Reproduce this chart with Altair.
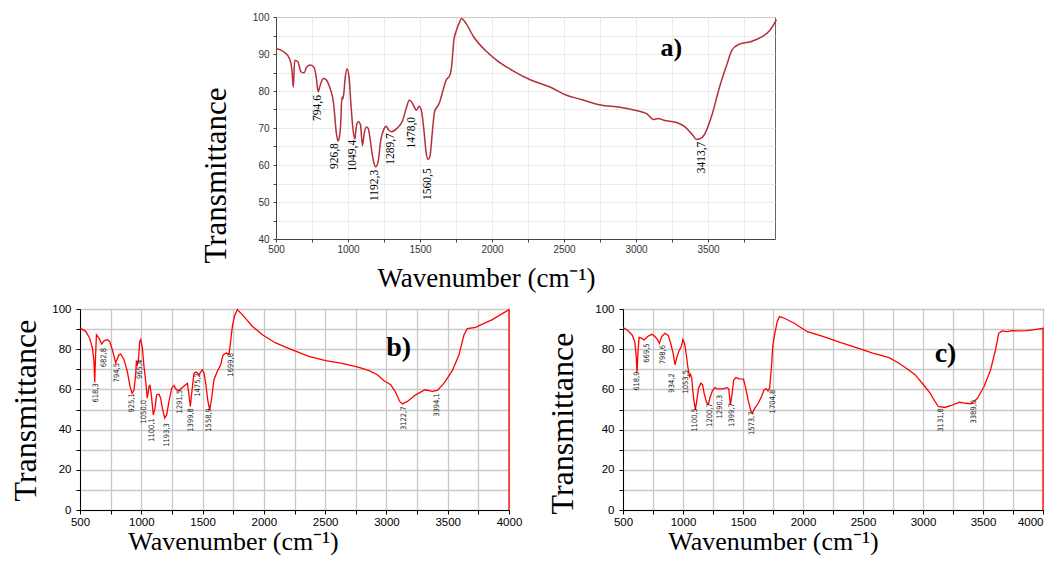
import altair as alt
import pandas as pd

# ---------------- Panel a) ----------------
a_wn = [500, 553, 593, 610, 620, 630, 652, 673, 695, 713, 740, 765, 780, 793, 805, 828, 840, 873, 900,
        919, 930, 940, 948, 958, 963, 970, 980, 993, 1007, 1020, 1033, 1047, 1055, 1062, 1073, 1087,
        1100, 1113, 1127, 1140, 1153, 1167, 1180, 1192, 1207, 1228, 1247, 1265, 1281, 1300, 1340,
        1380, 1407, 1425, 1441, 1460, 1475, 1495, 1511, 1527, 1543, 1556, 1569, 1585, 1601, 1633,
        1660, 1681, 1708, 1719, 1735, 1753, 1775, 1788, 1820, 1873, 1953, 2033, 2140, 2273, 2407,
        2513, 2620, 2753, 2887, 2993, 3073, 3121, 3153, 3193, 3287, 3340, 3393, 3420, 3440, 3473,
        3527, 3580, 3633, 3665, 3713, 3793, 3873, 3930, 3975]
a_T = [91.5, 90.6, 88.8, 86.0, 81.0, 88.3, 87.9, 85.2, 84.9, 86.5, 87.0, 86.3, 83.5, 79.8, 81.3, 83.4,
       83.3, 81.0, 76.6, 68.6, 66.5, 67.5, 70.3, 78.4, 77.8, 79.0, 83.4, 86.0, 83.8, 76.6, 70.3, 67.0,
       69.5, 71.2, 71.7, 70.8, 65.3, 68.6, 70.3, 69.9, 67.2, 63.2, 60.5, 59.5, 60.5, 66.8, 69.5, 70.5,
       69.5, 69.0, 69.9, 72.1, 75.7, 77.5, 77.1, 75.7, 74.8, 75.9, 74.4, 69.5, 63.2, 61.5, 62.3, 68.6,
       74.4, 76.6, 80.2, 82.9, 84.3, 86.5, 93.7, 96.4, 98.7, 99.6, 98.2, 94.6, 91.0, 88.3, 85.6, 82.9,
       81.0, 78.9, 77.7, 76.2, 75.6, 74.8, 73.9, 72.3, 72.6, 72.1, 71.4, 70.3, 68.1, 66.9, 67.0, 68.1,
       73.5, 81.1, 87.4, 91.0, 92.6, 93.3, 94.6, 96.4, 99.3]
a_lab = ["794,6", "926,8", "1049,4", "1192,3", "1289,7", "1478,0", "1560,5", "3413,7"]
a_lab_x = [793, 913, 1033, 1185, 1300, 1447, 1553, 3460]
a_lab_y = [78.9, 65.9, 66.8, 58.7, 68.6, 73.0, 59.1, 66.3]

# ---------------- Panel b) ----------------
b_wn = [500, 546, 579, 601, 614, 620, 626, 634, 655, 677, 696, 723, 742, 764, 791, 818, 832, 859, 886,
        908, 925, 941, 954, 960, 968, 976, 987, 995, 1009, 1022, 1036, 1049, 1063, 1071, 1082, 1098,
        1112, 1125, 1145, 1158, 1172, 1191, 1207, 1226, 1248, 1267, 1281, 1302, 1335, 1376, 1389,
        1400, 1416, 1430, 1449, 1471, 1498, 1512, 1525, 1544, 1558, 1574, 1593, 1620, 1648, 1667,
        1694, 1716, 1729, 1743, 1762, 1784, 1824, 1906, 1988, 2096, 2232, 2368, 2504, 2640, 2776,
        2858, 2926, 2980, 3035, 3075, 3108, 3130, 3171, 3239, 3315, 3375, 3416, 3470, 3538, 3592,
        3633, 3660, 3728, 3783, 3864, 3932, 4000, 4000]
b_T = [90.5, 88.9, 85.5, 80.6, 73.9, 63.6, 75.0, 87.2, 85.5, 82.6, 84.2, 84.7, 83.9, 79.7, 73.2, 77.2,
       77.6, 74.8, 68.9, 61.5, 58.0, 59.8, 67.3, 74.3, 72.3, 73.9, 83.9, 84.8, 80.6, 71.4, 64.0, 55.6,
       61.5, 62.0, 57.3, 47.3, 50.7, 57.3, 57.6, 55.6, 50.7, 45.7, 47.3, 54.0, 60.6, 62.0, 60.3, 59.3,
       61.0, 63.1, 57.3, 51.5, 60.6, 68.1, 68.6, 67.3, 69.8, 68.1, 63.1, 54.0, 49.8, 55.6, 64.8, 68.9,
       72.3, 77.2, 78.1, 77.6, 83.9, 91.4, 96.8, 99.7, 97.2, 91.4, 87.2, 83.1, 79.7, 76.4, 74.3, 72.9,
       70.9, 69.3, 67.3, 64.3, 62.3, 58.6, 54.0, 52.8, 54.0, 57.3, 59.8, 59.0, 59.5, 63.1, 69.3, 77.2,
       87.2, 90.2, 90.9, 92.5, 94.7, 97.2, 99.7, 0.0]
b_lab = ["618,3", "682,8", "794,5", "925,1", "965,4", "1050,0", "1100,1", "1193,3", "1291,5",
         "1399,8", "1475,2", "1558,9", "1699,8", "3122,7", "3394,1"]
b_lab_x = [628, 696, 799, 922, 987, 1022, 1085, 1207, 1313, 1403, 1465, 1552, 1729, 3143, 3415]
b_lab_y = [63.1, 80.6, 73.1, 58.1, 74.8, 54.8, 45.7, 43.2, 59.8, 50.7, 68.1, 50.7, 78.1, 51.5, 58.1]

# ---------------- Panel c) ----------------
c_wn = [500, 535, 576, 598, 609, 617, 625, 634, 658, 677, 705, 740, 767, 789, 803, 822, 849, 877, 898,
        917, 934, 950, 966, 986, 999, 1013, 1026, 1040, 1054, 1062, 1073, 1081, 1092, 1103, 1114,
        1130, 1149, 1163, 1176, 1196, 1212, 1223, 1245, 1266, 1286, 1326, 1367, 1381, 1395, 1408,
        1422, 1441, 1468, 1504, 1523, 1545, 1567, 1578, 1599, 1627, 1654, 1676, 1695, 1708, 1722,
        1736, 1749, 1768, 1785, 1804, 1845, 1927, 2036, 2172, 2309, 2445, 2581, 2718, 2800, 2881,
        2936, 3004, 3059, 3100, 3127, 3181, 3236, 3304, 3359, 3400, 3454, 3509, 3563, 3604, 3631,
        3659, 3700, 3741, 3782, 3863, 3945, 4000, 4000]
c_T = [90.7, 89.6, 87.1, 83.8, 77.2, 68.5, 78.8, 85.9, 85.4, 84.6, 86.3, 87.4, 86.3, 84.6, 82.9, 86.3,
       87.9, 86.8, 82.9, 78.0, 72.2, 76.3, 79.1, 81.3, 84.8, 82.9, 78.0, 71.4, 66.4, 67.5, 65.6, 59.8,
       54.0, 49.8, 54.0, 60.6, 63.1, 62.3, 58.1, 53.6, 52.6, 55.6, 59.3, 60.9, 60.3, 60.3, 60.9, 60.3,
       52.3, 57.3, 64.7, 65.9, 65.2, 65.1, 60.6, 54.0, 49.0, 48.2, 50.7, 53.1, 56.5, 59.8, 60.3, 59.3,
       60.6, 70.5, 82.1, 88.7, 93.7, 96.2, 95.4, 92.9, 88.7, 86.3, 83.4, 80.8, 78.0, 75.8, 73.0, 69.7,
       67.2, 62.3, 58.1, 54.0, 51.5, 51.0, 52.0, 53.6, 53.1, 52.8, 55.6, 61.4, 69.7, 79.6, 87.9, 89.1,
       88.7, 89.2, 89.1, 89.2, 89.9, 90.4, 0.0]
c_lab = ["618,9", "669,5", "798,6", "934,2", "1053,5", "1100,5", "1200,7", "1290,3", "1399,7",
         "1573,7", "1704,8", "3131,8", "3389,0"]
c_lab_x = [617, 699, 830, 912, 1021, 1100, 1223, 1305, 1408, 1577, 1749, 3149, 3427]
c_lab_y = [68.9, 82.9, 82.1, 68.0, 69.7, 50.7, 53.1, 57.3, 53.1, 49.0, 59.8, 50.7, 54.8]

tags = ["a)", "b)", "c)"]
tag_x = [3245, 3100, 3188]
tag_y = [91.5, 80.6, 77.5]

SERIF = "Liberation Serif"
SANS = "Liberation Sans"
NARROW = "Liberation Sans Narrow, Arial Narrow, DejaVu Sans Condensed, Liberation Sans"
XTITLE = "Wavenumber (cm\u207b\u00b9)"


def panel(wn, T, lab, lab_x, lab_y, tag, tx, ty, xdom, ydom, xvals, yvals, ystep_lab,
          w, h, color, lw, interp, lab_font, lab_size, lab_color, st):
    df = pd.DataFrame({"wn": wn, "T": T, "i": list(range(len(wn)))})
    ldf = pd.DataFrame({"t": lab, "wn": lab_x, "T": lab_y})
    tdf = pd.DataFrame({"t": [tag], "wn": [tx], "T": [ty]})
    xs = alt.Scale(domain=xdom, nice=False, zero=False)
    ys = alt.Scale(domain=ydom, nice=False, zero=False)
    xaxis = alt.Axis(
        values=xvals, format="d", labelOverlap=False,
        labelExpr="datum.value % 500 === 0 ? datum.label : ''",
        grid=True, gridColor=st["grid"], gridWidth=st["gridw"],
        domainColor=st["axis"], tickColor=st["axis"], tickSize=st["tick"],
        labelFont=SANS, labelFontSize=st["lfs"], labelColor=st["lc"], labelPadding=2,
        labelAlign=st.get("xalign", "center"),
        title=XTITLE, titleFont=SERIF, titleFontSize=st["xtfs"], titleFontWeight="normal",
        titleColor="black", titleX=st["xtx"], titleY=st["xty"],
        titleBaseline="alphabetic", titleAlign="center")
    yaxis = alt.Axis(
        values=yvals, format="d", labelOverlap=False,
        labelExpr="datum.value %% %d === 0 ? datum.label : ''" % ystep_lab,
        grid=True, gridColor=st["grid"], gridWidth=st["gridw"],
        domainColor=st["axis"], tickColor=st["axis"], tickSize=st["tick"],
        labelFont=SANS, labelFontSize=st["lfs"], labelColor=st["lc"], labelPadding=st["ylp"],
        title="Transmittance", titleFont=SERIF, titleFontSize=st["ytfs"],
        titleFontWeight="normal", titleColor="black", titleAngle=270,
        titleX=st["ytx"], titleY=st["yty"], titleBaseline="alphabetic", titleAlign="center")
    X = alt.X("wn:Q", scale=xs, axis=xaxis, title=XTITLE)
    Y = alt.Y("T:Q", scale=ys, axis=yaxis, title="Transmittance")
    line = alt.Chart(df).mark_line(color=color, strokeWidth=lw, interpolate=interp).encode(
        x=X, y=Y, order="i:Q")
    labels = alt.Chart(ldf).mark_text(
        angle=270, align="right", baseline="middle", font=lab_font,
        fontSize=lab_size, color=lab_color).encode(x=X, y=Y, text="t:N")
    tagm = alt.Chart(tdf).mark_text(
        font=SERIF, fontSize=st["tagfs"], fontWeight="bold", color="black",
        align="center", baseline="middle").encode(x=X, y=Y, text="t:N")
    return alt.layer(line, labels, tagm).properties(
        width=w, height=h, view=alt.ViewBackground(stroke=st["frame"], strokeWidth=1))


st_a = dict(grid="#e6e6e6", gridw=0.8, axis="#444", tick=3, lfs=10, lc="#333", ylp=4,
            xtfs=27, xtx=210, xty=47, ytfs=31, ytx=-51, yty=158, tagfs=26, frame="#666")
st_b = dict(grid="#c8c8c8", gridw=1.3, axis="black", tick=4, lfs=11.5, lc="black", ylp=5,
            xtfs=26, xtx=153, xty=39, ytfs=32, ytx=-45, yty=101, tagfs=28, frame="#555")
st_c = dict(st_b)
st_c.update(xtx=150, xty=39, ytx=-51, yty=114,
            xalign={"condition": {"test": "datum.value === 4000", "value": "right"},
                    "value": "center"})

pa = panel(a_wn, a_T, a_lab, a_lab_x, a_lab_y, tags[0], tag_x[0], tag_y[0],
           [500, 3965], [40, 100], list(range(500, 3965, 250)), list(range(40, 101, 5)), 10,
           499, 222, "#b3303a", 1.5, "monotone", SERIF, 11.5, "black", st_a)
pb = panel(b_wn, b_T, b_lab, b_lab_x, b_lab_y, tags[1], tag_x[1], tag_y[1],
           [500, 4000], [0, 100], list(range(500, 4001, 250)), list(range(0, 101, 10)), 20,
           429, 201, "#ff0000", 1.3, "linear", NARROW, 7.5, "#222", st_b)
pc = panel(c_wn, c_T, c_lab, c_lab_x, c_lab_y, tags[2], tag_x[2], tag_y[2],
           [500, 4000], [0, 100], list(range(500, 4001, 250)), list(range(0, 101, 10)), 20,
           420, 201, "#ff0000", 1.3, "linear", NARROW, 7.5, "#222", st_c)

spacer = alt.Chart(pd.DataFrame({"v": [0]})).mark_point(opacity=0).encode(
    x=alt.X("v:Q", axis=None), y=alt.Y("v:Q", axis=None)).properties(
    width=119, height=10, view=alt.ViewBackground(strokeOpacity=0))

chart = alt.vconcat(
    alt.hconcat(spacer, pa, spacing=0),
    alt.hconcat(pb, pc, spacing=22),
    spacing=10,
).properties(padding={"left": 0, "top": 3, "right": 0, "bottom": 0}).configure(
    background="white")

chart.save("out.html", embed_options={"renderer": "svg", "actions": False})
